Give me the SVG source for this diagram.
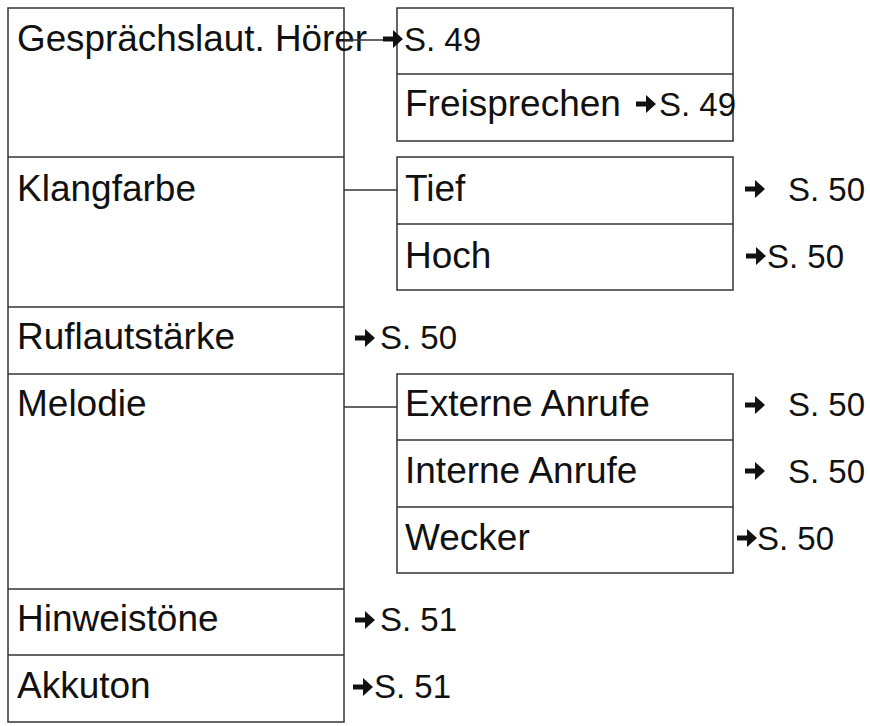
<svg xmlns="http://www.w3.org/2000/svg" width="870" height="726" viewBox="0 0 870 726">
<style>
.b{fill:#fff;stroke:#333;stroke-width:1.5}
.l{stroke:#333;stroke-width:1.5;fill:none}
text{font-family:"Liberation Sans",Arial,sans-serif;font-size:37px;fill:#111}
text.r{font-size:33px}
</style>
<defs><path id="a" d="M0,-2.5 H10 V-9 L20,0 L10,9 V2.5 H0 Z" fill="#111"/></defs>
<rect width="870" height="726" fill="#fff"/>
<g id="left">
<rect class="b" x="8" y="8" width="336" height="714"/>
<path class="l" d="M8,157H344M8,307H344M8,374H344M8,589H344M8,655H344"/>
<text x="17" y="51" textLength="350" lengthAdjust="spacingAndGlyphs">Gesprächslaut. Hörer</text>
<text x="17" y="201">Klangfarbe</text>
<text x="17" y="349">Ruflautstärke</text>
<text x="17" y="416">Melodie</text>
<text x="17" y="631">Hinweistöne</text>
<text x="17" y="698">Akkuton</text>
</g>
<g id="box1"><rect class="b" x="397" y="8" width="336" height="133"/><path class="l" d="M397,74H733"/>
<text class="r" x="404" y="51">S. 49</text><text x="405" y="116">Freisprechen</text><text class="r" x="659" y="116">S. 49</text></g>
<g id="box2"><rect class="b" x="397" y="157" width="336" height="133"/><path class="l" d="M397,224H733"/>
<text x="405" y="201">Tief</text><text x="405" y="268">Hoch</text><text class="r" x="788" y="201">S. 50</text><text class="r" x="767" y="268">S. 50</text></g>
<g id="box3"><rect class="b" x="397" y="374" width="336" height="199"/><path class="l" d="M397,440H733M397,507H733"/>
<text x="405" y="416">Externe Anrufe</text><text x="405" y="483">Interne Anrufe</text><text x="405" y="550">Wecker</text>
<text class="r" x="788" y="416">S. 50</text><text class="r" x="788" y="483">S. 50</text><text class="r" x="757" y="550">S. 50</text></g>
<g id="refs"><text class="r" x="380" y="349">S. 50</text><text class="r" x="380" y="631">S. 51</text><text class="r" x="374" y="698">S. 51</text></g>
<g id="connectors">
<path class="l" d="M344,40H388M344,190H397M344,407H397"/>
<use href="#a" x="383" y="39"/><use href="#a" x="636" y="104"/>
<use href="#a" x="745" y="189"/><use href="#a" x="746" y="256"/>
<use href="#a" x="355" y="338"/><use href="#a" x="745" y="405"/>
<use href="#a" x="745" y="471"/><use href="#a" x="737" y="538"/>
<use href="#a" x="355" y="620"/><use href="#a" x="353" y="687"/>
</g>
</svg>
